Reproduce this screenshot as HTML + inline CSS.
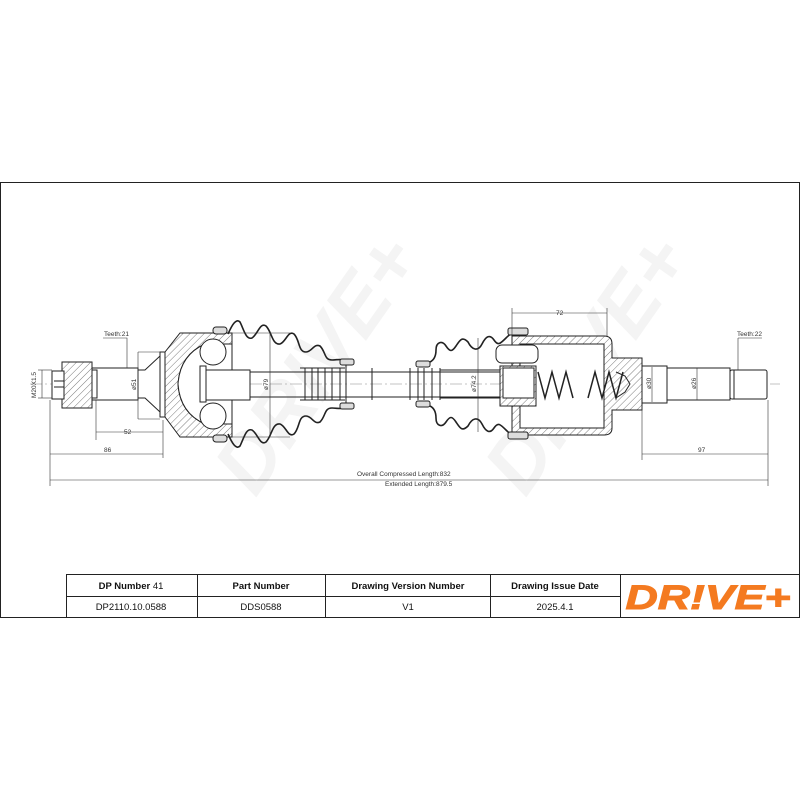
<!DOCTYPE html>
<html><head><meta charset="utf-8"><style>
html,body{margin:0;padding:0;background:#fff;}
svg{display:block}
text{font-family:"Liberation Sans",sans-serif;}
</style></head><body>
<svg width="800" height="800" viewBox="0 0 800 800" xmlns="http://www.w3.org/2000/svg">
<defs>
<pattern id="h" width="5" height="5" patternUnits="userSpaceOnUse" patternTransform="rotate(45)">
<rect width="5" height="5" fill="#fff"/><line x1="0" y1="0" x2="0" y2="5" stroke="#444" stroke-width="0.7"/>
</pattern>
</defs>
<rect x="0.5" y="182.5" width="799" height="435" fill="#fff" stroke="#222" stroke-width="1"/>
<!-- watermark -->
<g fill="#f4f4f4" font-weight="bold" font-size="80" font-style="italic">
<text x="160" y="465" transform="rotate(-55 240 390)">DRIVE+</text>
<text x="430" y="465" transform="rotate(-55 510 390)">DRIVE+</text>
</g>
<!-- centerline -->
<line x1="30" y1="384" x2="780" y2="384" stroke="#888" stroke-width="0.6" stroke-dasharray="12,3,2,3"/>
<g stroke="#222" stroke-width="1" fill="none">
<!-- nut -->
<rect x="62" y="362" width="30" height="46" fill="url(#h)"/>
<rect x="52" y="371" width="12" height="28" fill="#fff"/>
<line x1="54" y1="381" x2="64" y2="381"/><line x1="54" y1="387" x2="64" y2="387"/>
<!-- threaded shaft -->
<rect x="92" y="368" width="46" height="32" fill="#fff"/>
<rect x="92" y="370" width="5" height="28" fill="#fff"/>
<path d="M138 370 L145 370 L160 356 L160 412 L145 398 L138 398 Z" fill="#fff"/>
<rect x="160" y="352" width="5" height="65" fill="#fff"/>
<!-- housing -->
<path d="M165 352 L180 333 L232 333 L232 437 L180 437 L165 417 Z M178 384 Q180 355 205 344 L232 344 L232 424 L205 424 Q180 413 178 384 Z" fill="url(#h)" fill-rule="evenodd"/>
<path d="M178 384 Q180 355 205 344 L232 344 L232 424 L205 424 Q180 413 178 384 Z" fill="#fff"/>
<circle cx="213" cy="352" r="13" fill="#fff"/><circle cx="213" cy="416" r="13" fill="#fff"/>
<rect x="200" y="366" width="6" height="36" fill="#fff"/>
<rect x="213" y="327" width="14" height="7" rx="3" fill="#ddd"/>
<rect x="213" y="435" width="14" height="7" rx="3" fill="#ddd"/>
<!-- main shaft -->
<rect x="206" y="370" width="44" height="30" fill="#fff"/>
<path d="M250 372 L500 372 M250 397 L500 397" />
<line x1="250" y1="370" x2="250" y2="400"/>
<g>
<line x1="305" y1="368" x2="305" y2="400"/><line x1="312" y1="368" x2="312" y2="400"/>
<line x1="318" y1="368" x2="318" y2="400"/><line x1="325" y1="368" x2="325" y2="400"/>
<line x1="332" y1="368" x2="332" y2="400"/><line x1="340" y1="368" x2="340" y2="400"/>
<path d="M300 368 L345 368 M300 400 L345 400"/>
</g>
<!-- left boot -->
<path d="M228 334 C232 325,236 318,240 322 C244 330,246 340,252 338 C258 334,260 322,266 326 C272 332,272 345,280 344 C286 342,288 330,294 334 C300 340,298 352,306 352 C312 352,314 343,320 346 C326 352,324 360,332 360 C338 360,342 358,346 362" stroke-width="1.6"/>
<path d="M228 434 C232 443,236 450,240 446 C244 438,246 428,252 430 C258 434,260 446,266 442 C272 436,272 423,280 424 C286 426,288 438,294 434 C300 428,298 416,306 416 C312 416,314 425,320 422 C326 416,324 408,332 408 C338 408,342 410,346 406" stroke-width="1.6"/>
<rect x="340" y="359" width="14" height="6" rx="2" fill="#ddd"/>
<rect x="340" y="403" width="14" height="6" rx="2" fill="#ddd"/>
<line x1="346" y1="365" x2="346" y2="403"/>
<line x1="372" y1="368" x2="372" y2="400"/><line x1="410" y1="368" x2="410" y2="400"/>
<!-- right boot clamps -->
<rect x="416" y="361" width="14" height="6" rx="2" fill="#ddd"/>
<rect x="416" y="401" width="14" height="6" rx="2" fill="#ddd"/>
<line x1="418" y1="368" x2="418" y2="400"/><line x1="424" y1="368" x2="424" y2="400"/><line x1="432" y1="368" x2="432" y2="400"/><line x1="440" y1="368" x2="440" y2="400"/>
<path d="M430 362 C434 360,436 356,436 350 C436 342,442 340,446 346 C450 352,452 352,456 346 C460 340,462 336,468 342 C472 350,478 352,482 344 C486 336,490 334,494 340 C498 346,500 344,506 338 C510 334,512 332,516 336" stroke-width="1.6"/>
<path d="M430 406 C434 408,436 412,436 418 C436 426,442 428,446 422 C450 416,452 416,456 422 C460 428,462 432,468 426 C472 418,478 416,482 424 C486 432,490 434,494 428 C498 422,500 424,506 430 C510 434,512 436,516 432" stroke-width="1.6"/>
<path d="M440 370 L500 370 M440 398 L500 398"/>
<!-- tripod housing -->
<path d="M512 336 L604 336 Q612 336 612 344 L612 358 L642 358 L642 410 L612 410 L612 428 Q612 435 604 435 L512 435 Z M520 344 L604 344 L604 428 L520 428 Z" fill="url(#h)" fill-rule="evenodd"/>
<rect x="520" y="344" width="84" height="84" fill="#fff"/>
<path d="M500 366 L536 366 L536 406 L500 406 Z" fill="url(#h)"/>
<rect x="503" y="368" width="31" height="30" fill="#fff"/>
<rect x="496" y="345" width="42" height="18" rx="6" fill="#fff"/>
<rect x="508" y="328" width="20" height="7" rx="2" fill="#ddd"/>
<rect x="508" y="432" width="20" height="7" rx="2" fill="#ddd"/>
<!-- springs -->
<path d="M538 372 L545 398 L552 372 L559 398 L566 372 L573 398" stroke-width="1.5"/>
<path d="M588 398 L595 372 L602 398 L609 372 L616 398 L623 372" stroke-width="1.5"/>
<path d="M616 372 L625 376 L630 384 L625 392 L616 398"/>
<!-- output shaft -->
<rect x="642" y="366" width="25" height="37" fill="#fff"/>
<rect x="667" y="368" width="63" height="32" fill="#fff"/>
<rect x="730" y="370" width="37" height="29" rx="2" fill="#fff"/>
<line x1="734" y1="370" x2="734" y2="399"/>
</g>
<!-- dimension lines -->
<g stroke="#333" stroke-width="0.6" fill="none">
<line x1="42" y1="370" x2="42" y2="398"/><line x1="38" y1="370" x2="52" y2="370"/><line x1="38" y1="398" x2="52" y2="398"/>
<line x1="138" y1="352" x2="138" y2="419"/><line x1="138" y1="352" x2="160" y2="352"/><line x1="138" y1="419" x2="160" y2="419"/>
<line x1="270" y1="333" x2="270" y2="437"/><line x1="232" y1="333" x2="290" y2="333"/><line x1="232" y1="437" x2="290" y2="437"/>
<line x1="478" y1="338" x2="478" y2="432"/>
<line x1="652" y1="367" x2="652" y2="402"/>
<line x1="697" y1="368" x2="697" y2="400"/>
<line x1="96" y1="432" x2="163" y2="432"/><line x1="96" y1="400" x2="96" y2="440"/><line x1="163" y1="420" x2="163" y2="458"/>
<line x1="50" y1="454" x2="163" y2="454"/><line x1="50" y1="400" x2="50" y2="486"/>
<line x1="642" y1="454" x2="768" y2="454"/><line x1="642" y1="405" x2="642" y2="460"/><line x1="768" y1="400" x2="768" y2="486"/>
<line x1="50" y1="480" x2="768" y2="480"/>
<line x1="512" y1="313" x2="607" y2="313"/><line x1="512" y1="308" x2="512" y2="336"/><line x1="607" y1="308" x2="607" y2="336"/>
<path d="M103 338 L127 338 L127 368"/>
<path d="M738 338 L762 338 M738 338 L738 370"/>
</g>
<g font-size="6.5" fill="#333">
<text x="104" y="336">Teeth:21</text>
<text x="737" y="336">Teeth:22</text>
<text x="124" y="434">52</text>
<text x="104" y="452">86</text>
<text x="698" y="452">97</text>
<text x="556" y="315">72</text>
<text x="357" y="476">Overall  Compressed  Length:832</text>
<text x="385" y="486">Extended  Length:879.5</text>
<text transform="translate(36 398) rotate(-90)">M20X1.5</text>
<text transform="translate(136 390) rotate(-90)">ø51</text>
<text transform="translate(268 390) rotate(-90)">ø79</text>
<text transform="translate(476 392) rotate(-90)">ø74.2</text>
<text transform="translate(651 389) rotate(-90)">ø30</text>
<text transform="translate(696 389) rotate(-90)">ø26</text>
</g>
<!-- table -->
<g stroke="#222" stroke-width="1" fill="none">
<rect x="66.5" y="574.5" width="733" height="43"/>
<line x1="66" y1="596.5" x2="620" y2="596.5"/>
<line x1="197.5" y1="574" x2="197.5" y2="617"/>
<line x1="325.5" y1="574" x2="325.5" y2="617"/>
<line x1="490.5" y1="574" x2="490.5" y2="617"/>
<line x1="620.5" y1="574" x2="620.5" y2="617"/>
</g>
<g font-size="9.5" text-anchor="middle" fill="#111">
<text x="131" y="589" font-weight="bold">DP Number <tspan font-weight="normal">41</tspan></text>
<text x="261" y="589" font-weight="bold">Part Number</text>
<text x="408" y="589" font-weight="bold">Drawing Version Number</text>
<text x="555" y="589" font-weight="bold">Drawing Issue Date</text>
<text x="131" y="610">DP2110.10.0588</text>
<text x="261" y="610">DDS0588</text>
<text x="408" y="610">V1</text>
<text x="555" y="610">2025.4.1</text>
</g>
<text x="708" y="609" text-anchor="middle" font-size="34" font-weight="bold" font-style="italic" fill="#f47a20" stroke="#f47a20" stroke-width="1" textLength="165" lengthAdjust="spacingAndGlyphs">DR!VE+</text>
</svg>
</body></html>
